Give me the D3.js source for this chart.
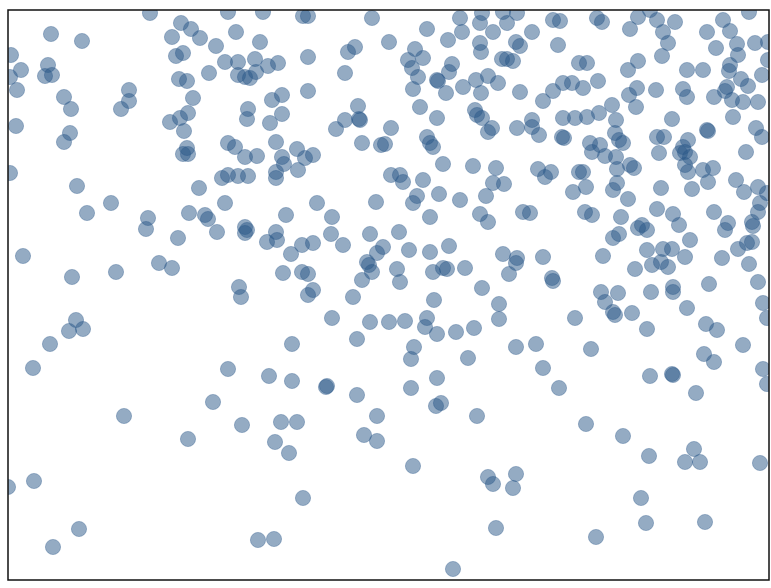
<!DOCTYPE html>
<html>
<head>
<meta charset="utf-8">
<title>Scatter</title>
<script src="https://cdn.jsdelivr.net/npm/d3@7"></script>
<style>
body { margin: 0; background: #fff; }
.dot { fill: #2a5788; fill-opacity: 0.5; stroke: #2a5788; stroke-opacity: 0.45; stroke-width: 0.8; }
.frame { fill: none; stroke: #111; stroke-width: 1.5; }
</style>
</head>
<body>
<svg width="771" height="588"></svg>
<script>
// points, [x, y], y grows downward
var pointsTop = [
  [150,13],[51,34],[82,41],[11,55],[21,70],[48,65],[45,76],[52,75],[10,77],[17,90],[64,97],[71,109],
  [129,90],[129,101],[121,109],[16,126],[70,133],[64,142],[10,173],[77,186],[172,37],[181,23],[191,29],
  [200,38],[176,56],[183,53],[179,79],[187,81],[193,98],[170,122],[180,118],[188,113],[184,131],[183,154],
  [188,154],[187,148],[199,188],
  [228,12],[263,12],[303,16],[308,16],[372,18],[236,32],[216,46],[260,42],[389,42],[308,57],[348,52],
  [355,47],[225,62],[238,62],[255,59],[268,66],[278,63],[209,73],[238,75],[245,77],[250,78],[256,72],
  [345,73],[308,91],[272,100],[282,95],[248,109],[247,119],[270,123],[282,114],[358,106],[359,119],[360,120],
  [345,120],[336,129],[391,128],[228,143],[235,147],[276,142],[245,157],[257,156],[297,149],[305,158],
  [313,155],[362,143],[381,145],[385,144],[282,157],[284,164],[276,172],[276,178],[298,170],[222,178],
  [228,175],[238,176],[248,176],[391,175],
  [460,18],[482,13],[480,23],[503,12],[517,13],[507,23],[553,20],[560,21],[427,29],[462,32],[493,32],
  [532,32],[448,40],[480,43],[481,52],[516,42],[520,46],[558,45],[415,49],[408,60],[423,58],[412,68],
  [502,59],[507,59],[513,61],[452,64],[449,72],[418,77],[437,80],[438,81],[413,89],[446,93],[463,87],
  [476,80],[488,76],[498,83],[481,93],[520,92],[543,101],[553,91],[563,83],[572,83],[579,63],[420,107],
  [475,110],[477,115],[482,118],[437,118],[488,132],[492,128],[517,128],[532,120],[532,127],[539,135],
  [563,118],[575,118],[562,137],[564,138],[427,137],[430,143],[433,147],[443,164],[473,166],[496,168],
  [538,169],[545,177],[551,172],[400,175],[403,182],[423,180],[493,183],[504,184],[579,172],[417,196],
  [439,194],[460,200],[486,196],[573,192],
  [597,18],[602,22],[638,17],[650,10],[657,20],[675,22],[630,29],[663,32],[668,43],[707,32],[723,20],
  [730,31],[749,12],[716,48],[737,44],[738,55],[755,43],[768,42],[662,56],[587,63],[638,61],[628,70],
  [687,70],[703,70],[730,65],[729,71],[727,87],[725,91],[762,75],[768,60],[741,79],[748,86],[583,88],
  [598,81],[637,88],[629,95],[656,90],[683,89],[687,97],[714,97],[732,100],[743,102],[758,102],[612,105],
  [636,107],[599,113],[587,117],[616,120],[733,117],[672,119],[707,130],[708,131],[756,128],[762,137],
  [615,133],[619,140],[623,143],[657,137],[664,137],[688,140],[683,147],[680,153],[685,152],[690,157],
  [590,143],[592,152],[600,145],[605,156],[616,157],[617,169],[659,153],[685,165],[688,172],[630,165],
  [634,168],[583,172],[703,170],[713,168],[708,182],[746,152],[736,180],[744,192],[758,187],[767,193],
  [586,187],[617,183],[613,190],[661,188],[692,189],[628,199]
];
var pointsMiddle = [
  [87,213],[111,203],[148,218],[146,229],[189,213],[178,238],[23,256],[72,277],[116,272],[159,263],
  [172,268],[76,320],[69,331],[83,329],[50,344],[33,368],
  [225,203],[205,215],[208,219],[217,232],[245,227],[247,230],[245,233],[267,242],[276,232],[277,240],
  [286,215],[291,254],[302,245],[313,243],[317,203],[332,217],[331,234],[343,245],[283,273],[302,272],
  [308,274],[239,287],[241,297],[313,290],[308,295],[376,202],[370,234],[383,247],[377,253],[367,262],
  [369,265],[372,272],[362,280],[353,297],[332,318],[370,322],[389,322],[357,339],[292,344],[228,369],
  [269,376],[292,381],[326,387],[327,386],[357,395],[213,402],
  [413,203],[430,217],[480,214],[488,222],[523,212],[530,213],[399,232],[409,250],[430,252],[449,246],
  [397,269],[400,282],[433,272],[443,268],[447,269],[465,268],[503,254],[517,258],[516,263],[509,274],
  [543,257],[552,278],[553,281],[482,288],[434,300],[499,304],[499,319],[405,321],[427,318],[425,327],
  [437,334],[456,332],[474,328],[575,318],[516,347],[536,344],[414,347],[411,359],[468,358],[543,368],
  [437,378],[411,388],[559,388],
  [585,212],[592,215],[621,217],[657,209],[673,214],[679,225],[714,212],[728,223],[725,230],[760,203],
  [758,212],[752,222],[753,226],[642,225],[638,228],[647,230],[613,238],[619,234],[690,240],[603,256],
  [647,250],[663,249],[672,249],[685,257],[652,265],[661,262],[668,267],[635,269],[722,258],[738,249],
  [747,243],[752,242],[749,264],[758,282],[709,284],[673,287],[673,292],[651,292],[601,292],[618,293],
  [605,302],[613,312],[615,315],[632,313],[687,308],[763,303],[767,318],[647,329],[706,324],[717,330],
  [591,349],[743,345],[704,354],[714,362],[763,369],[767,384],[650,376],[672,374],[673,375],[696,393]
];
var pointsBottom = [
  [124,416],[188,439],[34,481],[8,487],[79,529],[53,547],
  [242,425],[281,422],[297,422],[275,442],[289,453],[377,416],[364,435],[377,441],[303,498],[258,540],
  [274,539],
  [436,406],[441,403],[477,416],[413,466],[488,477],[493,484],[516,474],[513,488],[496,528],[453,569],
  [586,424],[623,436],[649,456],[694,449],[685,462],[700,462],[760,463],[641,498],[646,523],[705,522],
  [596,537]
];
var xExtent = [8, 769];
var yExtent = [10, 580];

var points = pointsTop.concat(pointsMiddle, pointsBottom);
var svg = d3.select("svg");
var margin = {top: 10, left: 8};
var width = 761, height = 570;
var g = svg.append("g").attr("transform", "translate(" + margin.left + "," + margin.top + ")");
var x = d3.scaleLinear().domain(xExtent).range([0, width]);
var y = d3.scaleLinear().domain(yExtent).range([0, height]);

svg.append("defs").append("clipPath").attr("id", "plotclip")
  .append("rect").attr("width", width).attr("height", height);

g.append("g").attr("clip-path", "url(#plotclip)")
  .selectAll(".dot").data(points).enter().append("circle")
  .attr("class", "dot")
  .attr("cx", function(d) { return x(d[0]); })
  .attr("cy", function(d) { return y(d[1]); })
  .attr("r", 7.6);

g.append("rect").attr("class", "frame").attr("width", width).attr("height", height);
</script>
</body>
</html>
